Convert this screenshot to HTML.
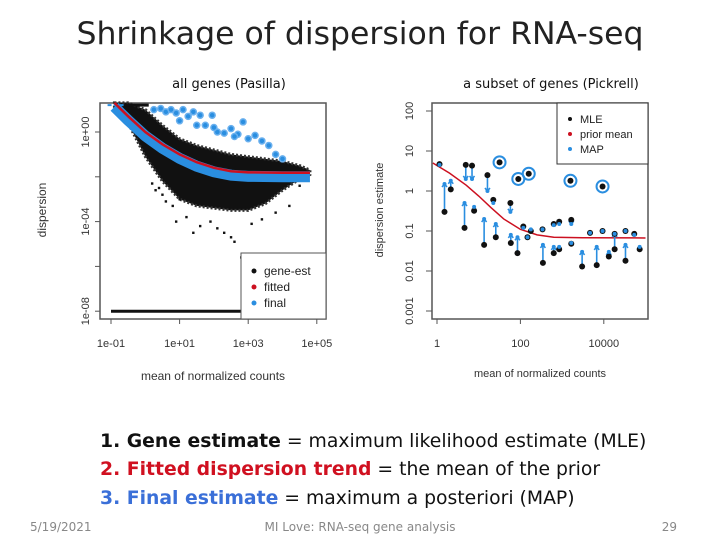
<!DOCTYPE html>
<html><head><meta charset="utf-8"><style>
body{margin:0;width:720px;height:540px;background:#fff;overflow:hidden;font-family:"Liberation Sans",sans-serif}
svg{position:absolute;left:0;top:0}
</style></head><body>
<svg width="720" height="540" xmlns="http://www.w3.org/2000/svg" id="s">
<text x="360" y="44" text-anchor="middle" font-family="DejaVu Sans" font-size="31.5" fill="#222">Shrinkage of dispersion for RNA-seq</text>
<text x="229" y="88" text-anchor="middle" font-family="DejaVu Sans" font-size="13" fill="#111">all genes (Pasilla)</text>
<text x="551" y="88" text-anchor="middle" font-family="DejaVu Sans" font-size="13" fill="#111">a subset of genes (Pickrell)</text>
<g id="left"></g>
<g id="right"></g>
<g font-family="DejaVu Sans" font-size="18.8">
<text x="100" y="447" fill="#111"><tspan font-weight="bold">1.  Gene estimate</tspan> = maximum likelihood estimate (MLE)</text>
<text x="100" y="475"><tspan font-weight="bold" fill="#d01020">2.  Fitted dispersion trend</tspan><tspan fill="#111"> = the mean of the prior</tspan></text>
<text x="100" y="504"><tspan font-weight="bold" fill="#3a6fd8">3.  Final estimate</tspan><tspan fill="#111"> = maximum a posteriori (MAP)</tspan></text>
</g>
<text x="30" y="531" font-family="DejaVu Sans" font-size="12" fill="#888">5/19/2021</text>
<text x="360" y="531" text-anchor="middle" font-family="DejaVu Sans" font-size="12" fill="#888">MI Love: RNA-seq gene analysis</text>
<text x="677" y="531" text-anchor="end" font-family="DejaVu Sans" font-size="12" fill="#888">29</text>
</svg>
<script>
// ---- left chart data (log10 scale) ----
const fitX=[-0.9,-0.5,0,0.5,1,1.5,2,2.5,3,4,4.8];
const fitY=[1.3,0.7,0.0,-0.55,-1.0,-1.35,-1.6,-1.75,-1.8,-1.82,-1.82];
const cloudX=[-0.9,-0.5,0,0.5,1,1.5,2,2.5,3,3.5,4,4.5,4.8];
const cloudHi=[1.3,1.3,1.0,0.3,-0.3,-0.6,-0.8,-1.0,-1.1,-1.2,-1.3,-1.5,-1.7];
const cloudLo=[1.0,0.4,-1.1,-2.2,-3.0,-3.3,-3.4,-3.5,-3.5,-3.2,-2.6,-2.1,-1.9];
const outX=[0.4,0.6,0.9,0.2,1.2,1.6,0.8,2.1,2.5,1.9,2.8,3.1,3.8,4.5,0.3,1.4,2.3,3.4,1.0,2.6,4.2,0.5];
const outY=[-2.5,-3.1,-4.0,-2.3,-3.8,-4.2,-3.3,-4.3,-4.7,-4.0,-5.6,-4.1,-3.6,-2.4,-2.6,-4.5,-4.5,-3.9,-3.0,-4.9,-3.3,-2.8];
const finX=[0.25,0.45,0.6,0.75,0.9,1.1,1.25,1.4,1.6,1.75,1.95,2.1,2.3,2.5,2.7,2.85,3.0,3.2,3.4,3.6,3.8,4.0,1.0,1.5,2.0,2.6];
const finY=[1.0,1.05,0.9,1.0,0.85,1.0,0.7,0.9,0.75,0.3,0.75,0.0,-0.05,0.15,-0.1,0.45,-0.3,-0.15,-0.4,-0.6,-1.0,-1.2,0.5,0.3,0.2,-0.2];
const lxTicks=[-1,1,3,5], lxLabels=["1e-01","1e+01","1e+03","1e+05"];
const lyTicks=[0,-2,-4,-6,-8], lyLabels=["1e+00","","1e-04","","1e-08"];
// ---- right chart data ----
const rX=[0.06,0.18,0.33,0.66,0.69,0.84,0.89,1.13,1.21,1.35,1.41,1.76,1.77,1.93,2.07,2.17,2.25,2.53,2.54,2.8,2.8,2.93,2.93,3.22,3.22,3.48,3.67,3.83,3.97,4.12,4.26,4.26,4.52,4.52,4.73,4.86];
const rMLE=[4.7,0.3,1.1,0.12,4.5,4.3,0.32,0.045,2.5,0.6,0.07,0.5,0.05,0.028,0.13,0.07,0.1,0.11,0.016,0.028,0.15,0.035,0.17,0.19,0.048,0.013,0.09,0.014,0.1,0.023,0.035,0.085,0.018,0.1,0.085,0.035];
const rMAP=[4.5,1.5,1.8,0.5,2.0,2.0,0.4,0.2,1.0,0.5,0.15,0.3,0.08,0.07,0.12,0.07,0.11,0.11,0.045,0.04,0.14,0.04,0.15,0.15,0.05,0.03,0.09,0.04,0.1,0.03,0.085,0.085,0.045,0.1,0.08,0.04];
const cirX=[1.5,1.95,2.2,3.2,3.97], cirY=[5.2,2.0,2.7,1.8,1.3];
const priX=[-0.1,0.3,0.7,1.0,1.3,1.6,2.0,2.4,2.8,3.5,5.0];
const priY=[5,2.8,1.4,0.75,0.38,0.2,0.11,0.08,0.07,0.068,0.067];
const rxTicks=[0,2,4], rxLabels=["1","100","10000"];
const ryTicks=[2,1,0,-1,-2,-3], ryLabels=["100","10","1","0.1","0.01","0.001"];

const NS="http://www.w3.org/2000/svg";
function mk(p,t,a){const e=document.createElementNS(NS,t);for(const k in a)e.setAttribute(k,a[k]);p.appendChild(e);return e;}
// left axes
const lx=v=>111+(v+1)*34.3, ly=v=>132-v*22.4;
const L=document.getElementById('left');
let f=mk(L,'rect',{x:100,y:103,width:226,height:216,fill:'none',stroke:'#555','stroke-width':1.5});

let pts=cloudX.map((x,i)=>lx(x)+','+ly(cloudHi[i])).concat(cloudX.slice().reverse().map((x,i)=>lx(x)+','+ly(cloudLo[cloudX.length-1-i])));
let c=mk(L,'polygon',{points:pts.join(' '),fill:'#111',stroke:'#333','stroke-width':3,'stroke-dasharray':'2 2'});

outX.forEach((x,i)=>{const d=mk(L,'rect',{x:lx(x)-1.2,y:ly(outY[i])-1.2,width:2.4,height:2.4,fill:'#111'});

});
let b1=mk(L,'line',{x1:lx(-0.6),x2:lx(0.1),y1:ly(1.2),y2:ly(1.2),stroke:'#111','stroke-width':3});

let b0=mk(L,'line',{x1:lx(-1.1),x2:lx(-0.6),y1:ly(1.2),y2:ly(1.2),stroke:'#2a8ee0','stroke-width':2,'stroke-dasharray':'4 2'});

let b2=mk(L,'line',{x1:lx(-1),x2:lx(2.8),y1:ly(-8),y2:ly(-8),stroke:'#111','stroke-width':3});

let bandPts=fitX.map((x,i)=>lx(x)+','+(ly(fitY[i])+4)).join(' ');
let bb=mk(L,'polyline',{points:bandPts,fill:'none',stroke:'#2a8ee0','stroke-width':11});

finX.forEach((x,i)=>{const g=mk(L,'circle',{cx:lx(x),cy:ly(finY[i]),r:3,fill:'#2a8ee0',stroke:'#6ab0ee','stroke-width':1.5});

});
let fl=mk(L,'polyline',{points:fitX.map((x,i)=>lx(x)+','+ly(fitY[i])).join(' '),fill:'none',stroke:'#cc1020','stroke-width':2.5});

lxTicks.forEach((t,i)=>{mk(L,'line',{x1:lx(t),x2:lx(t),y1:319,y2:324,stroke:'#555'});
const e=mk(L,'text',{x:lx(t),y:347,'text-anchor':'middle','font-size':11,fill:'#333'});e.textContent=lxLabels[i];

});
lyTicks.forEach((t,i)=>{mk(L,'line',{x1:95,x2:100,y1:ly(t),y2:ly(t),stroke:'#555'});
const e=mk(L,'text',{x:0,y:0,'text-anchor':'middle','font-size':11,fill:'#333',transform:`translate(89,${ly(t)}) rotate(-90)`});e.textContent=lyLabels[i];

});
let t1=mk(L,'text',{x:213,y:380,'text-anchor':'middle','font-size':12,fill:'#333'});t1.textContent='mean of normalized counts';

let t2=mk(L,'text',{x:0,y:0,'text-anchor':'middle','font-size':12,fill:'#333',transform:'translate(46,210) rotate(-90)'});t2.textContent='dispersion';

let lg=mk(L,'rect',{x:241,y:253,width:85,height:66,fill:'#fff',stroke:'#555'});

[['gene-est','#111'],['fitted','#cc1020'],['final','#2a8ee0']].forEach((p,i)=>{
mk(L,'circle',{cx:254,cy:271+i*16,r:2.5,fill:p[1]});
const e=mk(L,'text',{x:264,y:275+i*16,'font-size':12,fill:'#222'});e.textContent=p[0];

});
// right chart
const rx=v=>437+v*41.7, ry=v=>191-Math.log10(v)*40, ryl=v=>191-v*40;
const R=document.getElementById('right');
let rf=mk(R,'rect',{x:432,y:103,width:216,height:216,fill:'none',stroke:'#555','stroke-width':1.5});

let pl=mk(R,'polyline',{points:priX.map((x,i)=>rx(x)+','+ry(priY[i])).join(' '),fill:'none',stroke:'#cc1020','stroke-width':1.5});

rX.forEach((x,i)=>{const X=rx(x),y1=ry(rMLE[i]),y2=ry(rMAP[i]);
if(Math.abs(y1-y2)>4){const a=mk(R,'line',{x1:X,x2:X,y1:y1,y2:y2,stroke:'#2a8ee0','stroke-width':1.6});


const s=y2<y1?3:-3;const h=mk(R,'polyline',{points:`${X-2.5},${y2+s} ${X},${y2} ${X+2.5},${y2+s}`,fill:'none',stroke:'#2a8ee0','stroke-width':1.6});

}
const m=mk(R,'circle',{cx:X,cy:y1,r:3,fill:'#111'});


const p=mk(R,'circle',{cx:X,cy:y2,r:2,fill:'#2a8ee0'});

});
cirX.forEach((x,i)=>{const o=mk(R,'circle',{cx:rx(x),cy:ry(cirY[i]),r:6,fill:'none',stroke:'#2a8ee0','stroke-width':2});


const m=mk(R,'circle',{cx:rx(x),cy:ry(cirY[i]),r:3,fill:'#111'});

});
rxTicks.forEach((t,i)=>{mk(R,'line',{x1:rx(t),x2:rx(t),y1:319,y2:324,stroke:'#555'});
const e=mk(R,'text',{x:rx(t),y:347,'text-anchor':'middle','font-size':11,fill:'#333'});e.textContent=rxLabels[i];

});
ryTicks.forEach((t,i)=>{mk(R,'line',{x1:426,x2:432,y1:ryl(t),y2:ryl(t),stroke:'#555'});
const e=mk(R,'text',{x:0,y:0,'text-anchor':'middle','font-size':11,fill:'#333',transform:`translate(413,${ryl(t)}) rotate(-90)`});e.textContent=ryLabels[i];

});
let t3=mk(R,'text',{x:540,y:377,'text-anchor':'middle','font-size':11,fill:'#333'});t3.textContent='mean of normalized counts';

let t4=mk(R,'text',{x:0,y:0,'text-anchor':'middle','font-size':11,fill:'#333',transform:'translate(383,210) rotate(-90)'});t4.textContent='dispersion estimate';

let rl=mk(R,'rect',{x:557,y:103,width:91,height:61,fill:'#fff',stroke:'#333'});

[['MLE','#111'],['prior mean','#cc1020'],['MAP','#2a8ee0']].forEach((p,i)=>{
mk(R,'circle',{cx:570,cy:119+i*15,r:2,fill:p[1]});
const e=mk(R,'text',{x:580,y:123+i*15,'font-size':11,fill:'#222'});e.textContent=p[0];

});
</script>
</body></html>
